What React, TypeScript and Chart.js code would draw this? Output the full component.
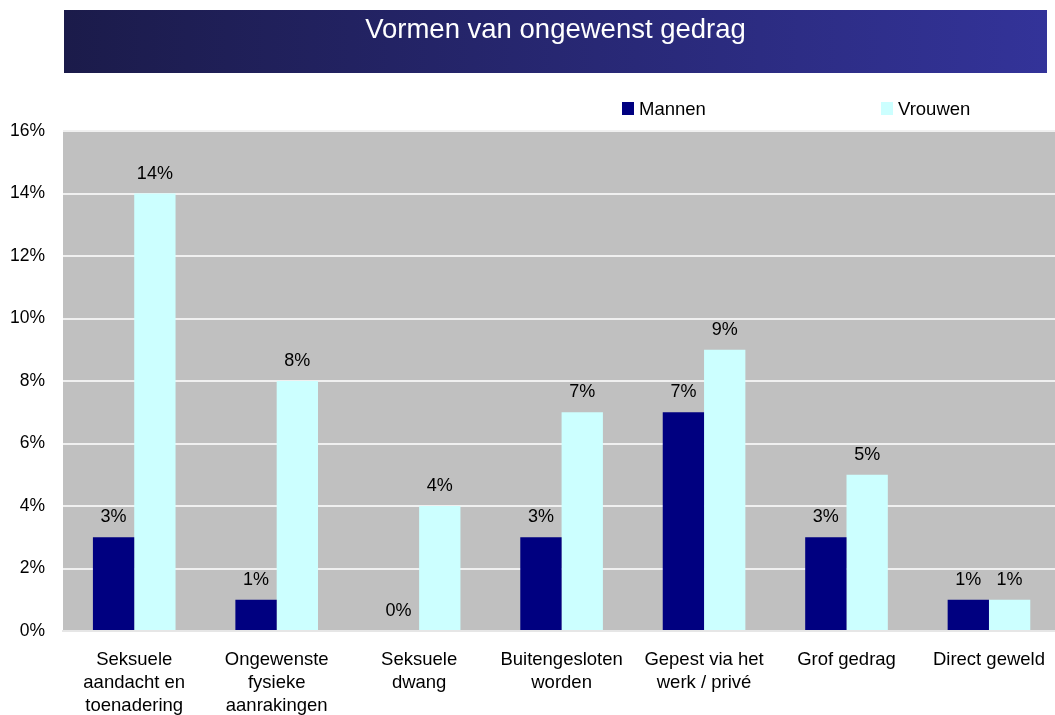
import React, { useEffect, useRef } from 'react';
import { Chart, registerables } from 'chart.js';

Chart.register(...registerables);

const TITLE = 'Vormen van ongewenst gedrag';
const categories: string[][] = [
  ['Seksuele', 'aandacht en', 'toenadering'],
  ['Ongewenste', 'fysieke', 'aanrakingen'],
  ['Seksuele', 'dwang'],
  ['Buitengesloten', 'worden'],
  ['Gepest via het', 'werk / privé'],
  ['Grof gedrag'],
  ['Direct geweld'],
];
const mannen = [3, 1, 0, 3, 7, 3, 1];
const vrouwen = [14, 8, 4, 7, 9, 5, 1];
const seriesNames = ['Mannen', 'Vrouwen'];
const seriesColors = ['#000080', '#CCFFFF'];
const yTickValues = [0, 2, 4, 6, 8, 10, 12, 14, 16];
const yTickLabels = ['0%', '2%', '4%', '6%', '8%', '10%', '12%', '14%', '16%'];

const FONT = "'Liberation Sans', Arial, sans-serif";

const plotBgPlugin = {
  id: 'plotBg',
  beforeDraw(chart: any) {
    const { ctx, chartArea: a } = chart;
    ctx.save();
    ctx.fillStyle = '#C0C0C0';
    ctx.fillRect(a.left, a.top, a.right - a.left, a.bottom - a.top);
    ctx.restore();
  },
};

const titleBarPlugin = {
  id: 'titleBar',
  afterDraw(chart: any) {
    const ctx = chart.ctx;
    const x0 = 64, x1 = 1047, y0 = 10, y1 = 73;
    ctx.save();
    const g = ctx.createLinearGradient(x0, 0, x1, 0);
    g.addColorStop(0, '#1B1B4A');
    g.addColorStop(1, '#333399');
    ctx.fillStyle = g;
    ctx.fillRect(x0, y0, x1 - x0, y1 - y0);
    ctx.fillStyle = '#FFFFFF';
    ctx.font = `27.5px ${FONT}`;
    ctx.textAlign = 'center';
    ctx.textBaseline = 'alphabetic';
    ctx.fillText(TITLE, (x0 + x1) / 2, 38);
    ctx.restore();
  },
};

const legendPlugin = {
  id: 'customLegend',
  afterDraw(chart: any) {
    const ctx = chart.ctx;
    const xs = [622, 881];
    ctx.save();
    ctx.font = `18.5px ${FONT}`;
    ctx.textAlign = 'left';
    ctx.textBaseline = 'alphabetic';
    chart.data.datasets.forEach((ds: any, i: number) => {
      ctx.fillStyle = ds.backgroundColor;
      ctx.fillRect(xs[i], 102, 12, 13);
      ctx.fillStyle = '#000000';
      ctx.fillText(ds.label, xs[i] + 17, 115);
    });
    ctx.restore();
  },
};

const valueLabelPlugin = {
  id: 'valueLabels',
  afterDatasetsDraw(chart: any) {
    const ctx = chart.ctx;
    ctx.save();
    ctx.font = `18px ${FONT}`;
    ctx.fillStyle = '#000000';
    ctx.textAlign = 'center';
    ctx.textBaseline = 'alphabetic';
    chart.data.datasets.forEach((ds: any, di: number) => {
      const meta = chart.getDatasetMeta(di);
      meta.data.forEach((el: any, i: number) => {
        ctx.fillText(`${ds.data[i]}%`, el.x, el.y - 15);
      });
    });
    ctx.restore();
  },
};

export default function App() {
  const canvasRef = useRef<HTMLCanvasElement | null>(null);

  useEffect(() => {
    if (!canvasRef.current) return;
    const chart = new Chart(canvasRef.current, {
      type: 'bar',
      data: {
        labels: categories,
        datasets: [
          {
            label: seriesNames[0],
            data: mannen,
            backgroundColor: seriesColors[0],
            borderWidth: 0,
            categoryPercentage: 0.58,
            barPercentage: 1.0,
          },
          {
            label: seriesNames[1],
            data: vrouwen,
            backgroundColor: seriesColors[1],
            borderWidth: 0,
            categoryPercentage: 0.58,
            barPercentage: 1.0,
          },
        ],
      },
      options: {
        responsive: false,
        animation: false,
        devicePixelRatio: 1,
        layout: { padding: { top: 131, left: 0, right: 0, bottom: 0 } },
        plugins: {
          legend: { display: false },
          title: { display: false },
          tooltip: { enabled: false },
        },
        scales: {
          x: {
            grid: { display: false, drawTicks: false },
            border: { display: true, color: '#E6E6E6', width: 2 },
            ticks: {
              color: '#000000',
              font: { family: FONT, size: 18.5, lineHeight: 23 / 18.5 },
              padding: 17,
              maxRotation: 0,
              autoSkip: false,
            },
            afterFit: (s: any) => {
              s.height = 84;
            },
          },
          y: {
            min: 0,
            max: 16,
            afterBuildTicks: (s: any) => {
              s.ticks = yTickValues.map((v) => ({ value: v }));
            },
            grid: { color: '#F0F0F0', lineWidth: 2, drawTicks: false },
            border: { display: false },
            ticks: {
              color: '#000000',
              font: { family: FONT, size: 17.5 },
              padding: 18,
              callback: (v: any) => yTickLabels[yTickValues.indexOf(Number(v))] ?? '',
            },
            afterFit: (s: any) => {
              s.width = 63;
            },
          },
        },
      },
      plugins: [plotBgPlugin, valueLabelPlugin, titleBarPlugin, legendPlugin],
    } as any);
    return () => chart.destroy();
  }, []);

  return (
    <div
      style={{
        position: 'fixed',
        left: 0,
        top: 0,
        width: 1055,
        height: 715,
        overflow: 'hidden',
        background: '#FFFFFF',
      }}
    >
      <canvas ref={canvasRef} width={1062} height={715} style={{ display: 'block' }} />
    </div>
  );
}
